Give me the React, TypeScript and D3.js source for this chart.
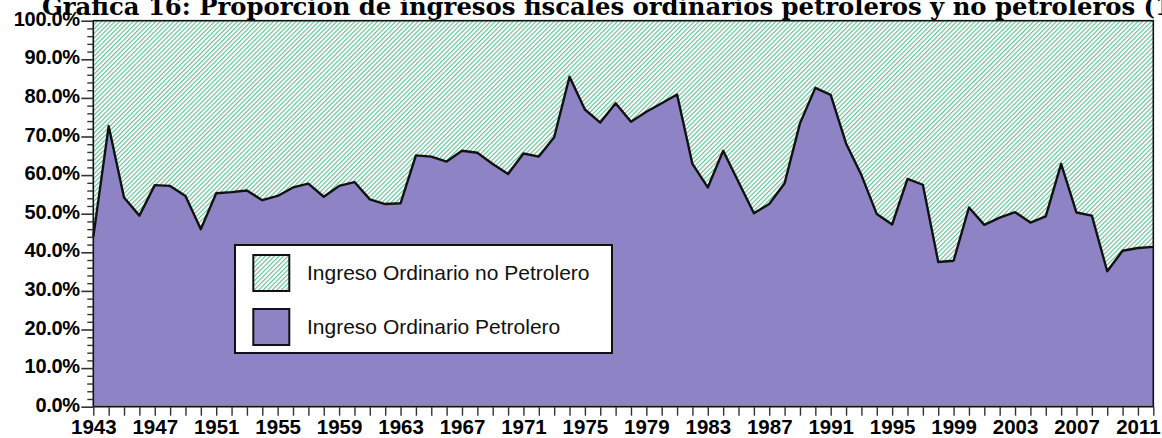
import React, { useEffect, useRef } from 'react';
import * as d3 from 'd3';

// Proporción del ingreso ordinario petrolero (%), 1943-2012
const startYear = 1943;
const petrolero = [
  44.0, 72.7, 54.2, 49.5, 57.4, 57.2, 54.6, 46.0, 55.3, 55.6,
  56.0, 53.5, 54.6, 56.8, 57.8, 54.4, 57.2, 58.2, 53.7, 52.5,
  52.7, 65.1, 64.8, 63.5, 66.3, 65.8, 62.9, 60.3, 65.6, 64.8,
  69.8, 85.5, 77.0, 73.6, 78.6, 73.8, 76.4, 78.6, 80.9, 62.9,
  56.8, 66.3, 58.2, 50.1, 52.5, 57.9, 73.4, 82.6, 80.8, 68.2,
  60.0, 49.9, 47.2, 59.0, 57.5, 37.5, 37.8, 51.6, 47.1, 49.0,
  50.4, 47.7, 49.3, 62.9, 50.3, 49.5, 35.1, 40.4, 41.1, 41.4,
];
const years = petrolero.map((_, i) => startYear + i);
const xLabelYears = [1943, 1947, 1951, 1955, 1959, 1963, 1967, 1971, 1975, 1979, 1983, 1987, 1991, 1995, 1999, 2003, 2007, 2011];
const yMajorTicks = [0, 10, 20, 30, 40, 50, 60, 70, 80, 90, 100];
const seriesNames = ['Ingreso Ordinario no Petrolero', 'Ingreso Ordinario Petrolero'];
const title = 'Gráfica 16: Proporción de ingresos fiscales ordinarios petroleros y no petroleros (1943-2012)';

const W = 1162;
const H = 438;

const Chart = () => {
  const svgRef = useRef<SVGSVGElement>(null);

  useEffect(() => {
    const svg = d3.select(svgRef.current);
    svg.selectAll('*').remove();

    const left = 93.3, right = 1153.3, top = 20.7, bottom = 406.7;
    const data = years.map((yr, i) => ({ year: yr, value: petrolero[i] }));

    const x = d3.scaleLinear().domain([years[0], years[years.length - 1]]).range([left, right]);
    const y = d3.scaleLinear().domain([0, 100]).range([bottom, top]);

    // hatch pattern for the non-oil part
    const defs = svg.append('defs');
    const pat = defs.append('pattern')
      .attr('id', 'hatch')
      .attr('patternUnits', 'userSpaceOnUse')
      .attr('width', 3.2)
      .attr('height', 3.2)
      .attr('patternTransform', 'rotate(45)');
    pat.append('rect').attr('width', 3.2).attr('height', 3.2).attr('fill', 'white');
    pat.append('line')
      .attr('x1', 0.6).attr('y1', 0).attr('x2', 0.6).attr('y2', 3.2)
      .attr('stroke', '#45b47f')
      .attr('stroke-width', 0.95);

    // areas
    const upper = d3.area<{ year: number; value: number }>()
      .x(d => x(d.year))
      .y0(y(100))
      .y1(d => y(d.value));
    const lower = d3.area<{ year: number; value: number }>()
      .x(d => x(d.year))
      .y0(y(0))
      .y1(d => y(d.value));

    svg.append('path').datum(data).attr('fill', 'url(#hatch)').attr('d', upper);
    svg.append('path').datum(data).attr('fill', '#8e83c5').attr('d', lower);

    const line = d3.line<{ year: number; value: number }>()
      .x(d => x(d.year))
      .y(d => y(d.value));
    svg.append('path').datum(data)
      .attr('fill', 'none')
      .attr('stroke', '#111')
      .attr('stroke-width', 2.4)
      .attr('stroke-linejoin', 'round')
      .attr('d', line);

    // frame
    svg.append('rect')
      .attr('x', left).attr('y', top)
      .attr('width', right - left).attr('height', bottom - top)
      .attr('fill', 'none').attr('stroke', '#111').attr('stroke-width', 1.6);

    const tickFont = '"Liberation Sans", Arial, sans-serif';

    // y axis - minor ticks every 2%
    const minor = d3.range(0, 101, 2).filter(v => v % 10 !== 0);
    const yMinor = svg.append('g')
      .attr('transform', `translate(${left},0)`)
      .call(d3.axisLeft(y).tickValues(minor).tickSize(6).tickFormat(() => ''));
    yMinor.select('.domain').remove();
    yMinor.selectAll('line').attr('stroke', '#333').attr('stroke-width', 1.4);

    const yAxis = svg.append('g')
      .attr('transform', `translate(${left},0)`)
      .call(d3.axisLeft(y).tickValues(yMajorTicks).tickSize(12).tickPadding(1.5)
        .tickFormat(d => (+d).toFixed(1) + '%'));
    yAxis.select('.domain').remove();
    yAxis.selectAll('line').attr('stroke', '#333').attr('stroke-width', 1.6);
    yAxis.selectAll('text')
      .attr('dy', '0.23em')
      .attr('fill', '#000')
      .style('font-family', tickFont)
      .style('font-weight', 'bold')
      .style('font-size', '20px')
      .style('letter-spacing', '-0.3px');

    // x axis
    const xAxis = svg.append('g')
      .attr('transform', `translate(0,${bottom})`)
      .call(d3.axisBottom(x).tickValues(years).tickSize(9).tickPadding(4)
        .tickFormat(d => (xLabelYears.includes(+d) ? String(d) : '')));
    xAxis.select('.domain').remove();
    xAxis.selectAll('line').attr('stroke', '#333').attr('stroke-width', 1.4);
    xAxis.selectAll('text')
      .attr('fill', '#000')
      .style('font-family', tickFont)
      .style('font-weight', 'bold')
      .style('font-size', '20.5px');

    // legend
    const lg = svg.append('g').attr('transform', 'translate(235,245)');
    lg.append('rect')
      .attr('width', 377).attr('height', 108)
      .attr('fill', 'white').attr('stroke', '#111').attr('stroke-width', 2);
    const swatchFill = ['url(#hatch)', '#8e83c5'];
    seriesNames.forEach((name, i) => {
      const yy = 10 + i * 54;
      lg.append('rect')
        .attr('x', 18.3).attr('y', yy)
        .attr('width', 36).attr('height', 36)
        .attr('fill', swatchFill[i]).attr('stroke', '#111').attr('stroke-width', 2);
      lg.append('text')
        .attr('x', 72).attr('y', yy + 18)
        .attr('dy', '0.35em')
        .attr('fill', '#111')
        .style('font-family', tickFont)
        .style('font-size', '21px')
        .text(name);
    });

    // title (clipped at top of the image)
    svg.append('text')
      .attr('x', 42).attr('y', 15)
      .attr('fill', '#000')
      .style('font-family', '"DejaVu Serif", serif')
      .style('font-weight', 'bold')
      .style('font-size', '24.3px')
      .text(title);
  }, []);

  return (
    <svg ref={svgRef} width={W} height={H} style={{ position: 'absolute', left: 0, top: 0, background: 'white' }}></svg>
  );
};

export default function App() {
  return <Chart />;
}
